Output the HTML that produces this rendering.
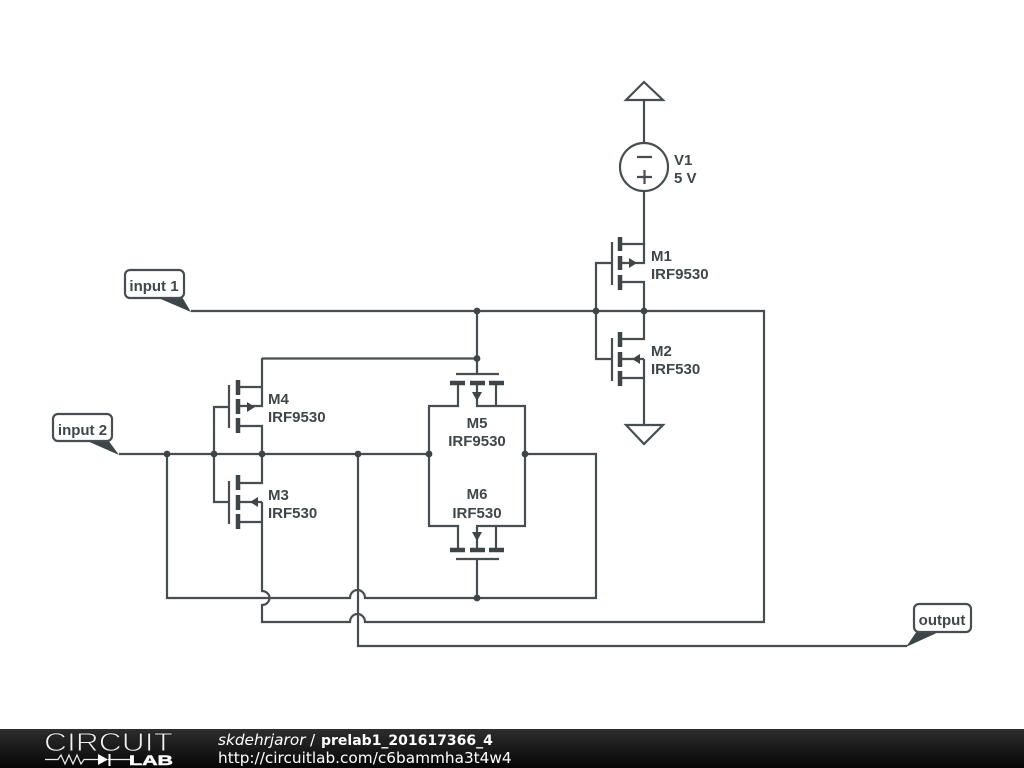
<!DOCTYPE html>
<html><head><meta charset="utf-8"><style>
html,body{margin:0;padding:0;background:#fff;width:1024px;height:768px;overflow:hidden}
svg{display:block}
.w{fill:none;stroke:#464e52;stroke-width:2.200}
.b{fill:none;stroke:#3d4549;stroke-width:4.500}
.t{font-family:"Liberation Sans",sans-serif;font-weight:bold;font-size:15px;fill:#3f474b}
.f{font-family:"DejaVu Sans",sans-serif;font-size:15.300px;fill:#fff}
</style></head><body>
<svg width="1024" height="768" viewBox="0 0 1024 768" xmlns="http://www.w3.org/2000/svg">
<defs>
<linearGradient id="g" x1="0" y1="0" x2="0" y2="1"><stop offset="0" stop-color="#2e2e2e"/><stop offset="1" stop-color="#060606"/></linearGradient>
</defs>
<rect width="1024" height="768" fill="#fff"/>

<!-- supply -->
<path class="w" d="M644 82L626 100H663ZM644 100V143M644 191V244"/>
<circle class="w" cx="644" cy="167" r="24"/>
<path class="w" d="M637 157H652M637 177H652M644.500 170V184"/>
<path class="w" d="M626 425H663L644 444ZM644 359V425"/>

<!-- M1 -->
<path class="w" d="M612 242V285M620 244H644V263H620M620 282H644V311M612 263H596V359H612"/>
<path class="b" d="M620 237V251M620 256V270M620 275V290"/>
<path d="M629 258L637 263L629 268Z" fill="#3d4549"/>
<!-- M2 -->
<path class="w" d="M612 338V381M644 311V339H620M620 359H644M620 378H644"/>
<path class="b" d="M620 332V347M620 352V367M620 371V386"/>
<path d="M640 354L632 359L640 364Z" fill="#3d4549"/>

<!-- M4 -->
<path class="w" d="M229 385V428M262 358V406H238M262 387H238M238 426H262V454M229 407H214V502H229"/>
<path class="b" d="M238 380V395M238 399V414M238 418V433"/>
<path d="M247 402L255 407L247 412Z" fill="#3d4549"/>
<!-- M3 -->
<path class="w" d="M229 481V524M262 454V483H238M238 502H262M238 522H262"/>
<path class="b" d="M238 475V490M238 495V510M238 514V529"/>
<path d="M258 497L250 502L258 507Z" fill="#3d4549"/>

<!-- M5 -->
<path class="w" d="M262 358.500H477M477 311V374M456 374H499M458 383V406H429V526H458V550M477 383V406H525V526H477V550M496 383V406M496 526V550M477 559V598M456 559H499"/>
<path class="b" d="M450 383H465M470 383H485M489 383H504M450 550H465M470 550H485M489 550H504"/>
<path d="M472 392L477 401L482 392Z" fill="#3d4549"/>
<path d="M472 532L477 541L482 532Z" fill="#3d4549"/>

<!-- main wires -->
<path class="w" d="M191 311H764V622H365A7.500 8 0 0 0 350 622H262V605A7.500 7 0 0 0 262 591V502"/>
<path class="w" d="M119 454H429M525 454H596V598H365A7.500 8 0 0 0 350 598H167V454"/>
<path class="w" d="M358 454V646H907"/>

<!-- nodes -->
<g fill="#3d4549">
<circle cx="477" cy="311" r="3.400"/><circle cx="596" cy="311" r="3.400"/><circle cx="644" cy="311" r="3.400"/>
<circle cx="477" cy="358.500" r="3.400"/><circle cx="167" cy="454" r="3.400"/><circle cx="214" cy="454" r="3.400"/>
<circle cx="262" cy="454" r="3.400"/><circle cx="358" cy="454" r="3.400"/><circle cx="429" cy="454" r="3.400"/>
<circle cx="525" cy="454" r="3.400"/><circle cx="477" cy="598" r="3.400"/>
</g>

<!-- labels -->
<g fill="#3d4549">
<path d="M156 297L191 312L182 297Z"/>
<path d="M85 440L119 455L108 440Z"/>
<path d="M917 631L906 647L941 631Z"/>
</g>
<g fill="#fff" stroke="#464e52" stroke-width="2.200">
<rect x="125" y="270" width="59" height="28" rx="5"/>
<rect x="53" y="414" width="59" height="27" rx="5"/>
<rect x="914" y="604" width="57" height="28" rx="5"/>
</g>
<g class="t">
<text x="154" y="291" text-anchor="middle">input 1</text>
<text x="82.500" y="435" text-anchor="middle">input 2</text>
<text x="942" y="625" text-anchor="middle">output</text>
<text x="674" y="165">V1</text><text x="674" y="183">5 V</text>
<text x="651" y="261">M1</text><text x="651" y="279">IRF9530</text>
<text x="651" y="356">M2</text><text x="651" y="374">IRF530</text>
<text x="268" y="404">M4</text><text x="268" y="422">IRF9530</text>
<text x="268" y="500">M3</text><text x="268" y="518">IRF530</text>
<text x="477" y="428" text-anchor="middle">M5</text><text x="477" y="446" text-anchor="middle">IRF9530</text>
<text x="477" y="499" text-anchor="middle">M6</text><text x="477" y="518" text-anchor="middle">IRF530</text>
</g>

<!-- footer -->
<rect x="0" y="729" width="1024" height="39" fill="url(#g)"/>
<text x="44" y="751" font-family="'Liberation Sans',sans-serif" font-size="26" fill="#f2f2f2" stroke="#1c1c1c" stroke-width="0.900" paint-order="fill stroke" textLength="129" lengthAdjust="spacingAndGlyphs">CIRCUIT</text>
<path d="M45 759.500H58L61 755L65 764L69 755L73 764L77 755L81 764L84 759.500H98M108 759.500H130" fill="none" stroke="#eee" stroke-width="1.200"/>
<path d="M98 754V765L108 759.500Z" fill="#fff"/>
<path d="M109.500 754V766" stroke="#fff" stroke-width="2"/>
<text x="129" y="765" font-family="'Liberation Sans',sans-serif" font-size="14" font-weight="bold" fill="#fff" stroke="#fff" stroke-width="0.500" textLength="44" lengthAdjust="spacingAndGlyphs">LAB</text>
<text class="f" x="218" y="745" font-style="italic">skdehrjaror</text>
<text class="f" x="310" y="745">/</text>
<text class="f" x="321" y="745" font-weight="bold" style="font-size:14px">prelab1_201617366_4</text>
<text class="f" x="218" y="763">http://circuitlab.com/c6bammha3t4w4</text>
</svg>
</body></html>
